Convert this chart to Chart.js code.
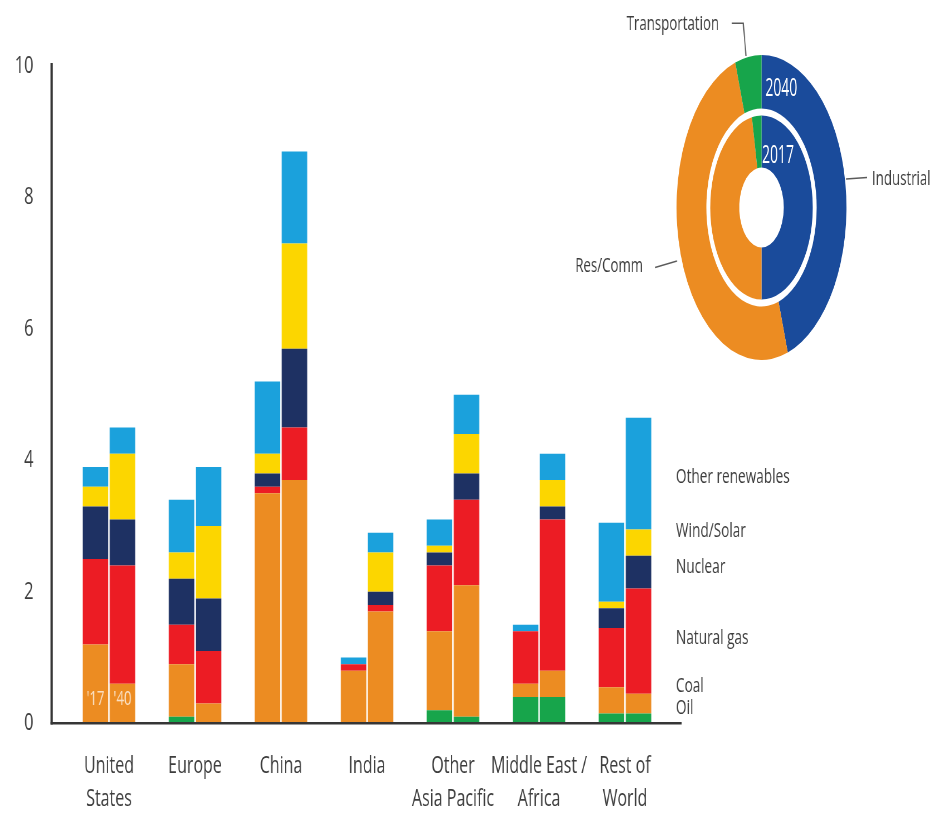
<!DOCTYPE html>
<html><head><meta charset="utf-8">
<script src="https://cdn.jsdelivr.net/npm/chart.js@4.4.1/dist/chart.umd.min.js"></script>
<style>
html,body{margin:0;padding:0;background:#fff;overflow:hidden;width:930px;height:814px;}
#wrap{position:relative;width:930px;height:814px;}
#main{position:absolute;left:0;top:0;transform:scaleX(0.68);transform-origin:0 0;}
#donutBox{position:absolute;left:608.5px;top:55px;width:305px;height:305px;transform:scaleX(0.557);transform-origin:50% 50%;}
</style></head><body>
<div id="wrap">
<canvas id="main" width="1368" height="814"></canvas>
<div id="donutBox"><canvas id="donut" width="305" height="305"></canvas></div>
</div>
<script>
// ---------------- DATA ----------------
const categories = [['United','States'],['Europe'],['China'],['India'],['Other','Asia Pacific'],['Middle East /','Africa'],['Rest of','World']];
const fuels = ['Oil','Coal','Natural gas','Nuclear','Wind/Solar','Other renewables'];
const years = ["'17","'40"];
const oil2017        = [0,   0.1, 0,   0,   0.2, 0.4, 0.15];
const oil2040        = [0,   0,   0,   0,   0.1, 0.4, 0.15];
const coal2017       = [1.2, 0.8, 3.5, 0.8, 1.2, 0.2, 0.4];
const coal2040       = [0.6, 0.3, 3.7, 1.7, 2.0, 0.4, 0.3];
const gas2017        = [1.3, 0.6, 0.1, 0.1, 1.0, 0.8, 0.9];
const gas2040        = [1.8, 0.8, 0.8, 0.1, 1.3, 2.3, 1.6];
const nuclear2017    = [0.8, 0.7, 0.2, 0,   0.2, 0,   0.3];
const nuclear2040    = [0.7, 0.8, 1.2, 0.2, 0.4, 0.2, 0.5];
const windSolar2017  = [0.3, 0.4, 0.3, 0,   0.1, 0,   0.1];
const windSolar2040  = [1.0, 1.1, 1.6, 0.6, 0.6, 0.4, 0.4];
const otherRen2017   = [0.3, 0.8, 1.1, 0.1, 0.4, 0.1, 1.2];
const otherRen2040   = [0.4, 0.9, 1.4, 0.3, 0.6, 0.4, 1.7];
const yTicks = [0, 2, 4, 6, 8, 10];
const sectors = ['Industrial','Res/Comm','Transportation'];
const share2040 = [45, 50, 5];
const share2017 = [50, 47, 3];
const ringYears = ['2040','2017'];

// ---------------- STYLE / LAYOUT ----------------
const SQ = 0.68;              // horizontal squeeze of main canvas
const FONT = "'Open Sans', sans-serif";
const TXT = '#3d3d3d';
const fuelColors = ['#17a54b','#ec8c22','#ec1c24','#1e3163','#fcd600','#1ba1dc'];
const sectorColors = ['#1a4b9b','#ec8c22','#17a54b'];
const legendAnchors = [0.23, 0.56, 1.29, 2.38, 2.915, 3.75]; // label y-anchors (value units) for fuels
const donutLabels = [
  {text:'Transportation', x:719, y:24, align:'right', line:[[731.7,23.3],[743.3,23.3],[746,56]]},
  {text:'Industrial', x:872, y:179, align:'left', line:[[846,179],[867,177.5]]},
  {text:'Res/Comm', x:643, y:266, align:'right', line:[[655,267.5],[677,261]]}
];

const series2017 = [oil2017, coal2017, gas2017, nuclear2017, windSolar2017, otherRen2017];
const series2040 = [oil2040, coal2040, gas2040, nuclear2040, windSolar2040, otherRen2040];
const datasets = [];
fuels.forEach((f,i)=>{
  datasets.push({label:f+" 2017", data:series2017[i], stack:'2017', backgroundColor:fuelColors[i], borderWidth:0});
  datasets.push({label:f+" 2040", data:series2040[i], stack:'2040', backgroundColor:fuelColors[i], borderWidth:0});
});

const overlay = {
  id:'overlay',
  afterDraw(chart){
    const ctx = chart.ctx, ca = chart.chartArea, ys = chart.scales.y;
    const y0 = ys.getPixelForValue(0);
    ctx.save();
    // axes
    ctx.strokeStyle = '#363636';
    const xl = ca.left - 14.3/SQ;
    ctx.lineWidth = 2.3/SQ;
    ctx.beginPath(); ctx.moveTo(xl, ys.getPixelForValue(10) - 3); ctx.lineTo(xl, y0 + 1.2); ctx.stroke();
    ctx.lineWidth = 2.5;
    ctx.beginPath(); ctx.moveTo(xl - 1.1/SQ, y0); ctx.lineTo(ca.right + 13.7/SQ, y0); ctx.stroke();
    // fuel labels
    ctx.fillStyle = TXT;
    ctx.font = '20px ' + FONT;
    ctx.textAlign = 'left'; ctx.textBaseline = 'middle';
    fuels.forEach((f,i)=>{ ctx.fillText(f, ca.right + 8/SQ, ys.getPixelForValue(legendAnchors[i])); });
    // year labels inside the first pair of bars
    ctx.fillStyle = 'rgba(255,255,255,0.72)';
    ctx.font = '19.5px ' + FONT;
    ctx.textAlign = 'center';
    [2, 3].forEach((di, k)=>{
      const el = chart.getDatasetMeta(di).data[0];
      ctx.fillText(years[k], el.x, ys.getPixelForValue(0.36));
    });
    // donut labels and leader lines
    ctx.fillStyle = TXT;
    ctx.font = '19.5px ' + FONT;
    ctx.strokeStyle = '#5a5a5a';
    ctx.lineWidth = 1.6;
    donutLabels.forEach(d=>{
      ctx.textAlign = d.align;
      ctx.fillText(d.text, d.x/SQ, d.y);
      ctx.beginPath();
      d.line.forEach((p,j)=>{ if(j===0) ctx.moveTo(p[0]/SQ, p[1]); else ctx.lineTo(p[0]/SQ, p[1]); });
      ctx.stroke();
    });
    ctx.restore();
  }
};

new Chart(document.getElementById('main'), {
  type:'bar',
  data:{labels:categories, datasets},
  options:{
    responsive:false, animation:false, events:[],
    categoryPercentage:0.628, barPercentage:0.944,
    layout:{padding:{left:0, right:1368 - 668/SQ, top:66, bottom:0}},
    plugins:{legend:{display:false}, tooltip:{enabled:false}},
    scales:{
      x:{stacked:true, offset:true, grid:{display:false, drawTicks:false}, border:{display:false},
         ticks:{font:{family:FONT, size:23.5, lineHeight:1.4}, color:TXT, padding:27, maxRotation:0, minRotation:0, autoSkip:false},
         afterFit(s){ s.height = 814 - 723.3; }},
      y:{stacked:true, min:0, max:10, grid:{display:false, drawTicks:false}, border:{display:false},
         afterBuildTicks(s){ s.ticks = yTicks.map(v=>({value:v})); },
         ticks:{font:{family:FONT, size:24}, color:TXT, padding:47.8},
         afterFit(s){ s.width = 66/SQ; }}
    }
  },
  plugins:[overlay]
});

const ringText = {
  id:'ringText',
  afterDraw(chart){
    const ctx = chart.ctx;
    ctx.save();
    ctx.fillStyle = '#ffffff';
    ctx.font = '25px ' + FONT;
    ctx.textAlign = 'left'; ctx.textBaseline = 'middle';
    [[0, 0.37, 7], [2, 0.22, 1]].forEach((cfg, k)=>{
      const a = chart.getDatasetMeta(cfg[0]).data[0];
      const p = a.getProps(['x','y','innerRadius','outerRadius']);
      ctx.fillText(ringYears[k], p.x + cfg[2], p.y - (p.innerRadius + cfg[1]*(p.outerRadius - p.innerRadius)));
    });
    ctx.restore();
  }
};

new Chart(document.getElementById('donut'), {
  type:'doughnut',
  data:{labels:sectors, datasets:[
    {label:ringYears[0], data:share2040, backgroundColor:sectorColors, borderWidth:0, weight:53.5},
    {label:'gap', data:[1], backgroundColor:['rgba(0,0,0,0)'], borderWidth:0, weight:7},
    {label:ringYears[1], data:share2017, backgroundColor:sectorColors, borderWidth:0, weight:52}
  ]},
  options:{responsive:false, animation:false, events:[], cutout:'26.2%',
    layout:{padding:0},
    plugins:{legend:{display:false}, tooltip:{enabled:false}}},
  plugins:[ringText]
});
</script>
</body></html>
